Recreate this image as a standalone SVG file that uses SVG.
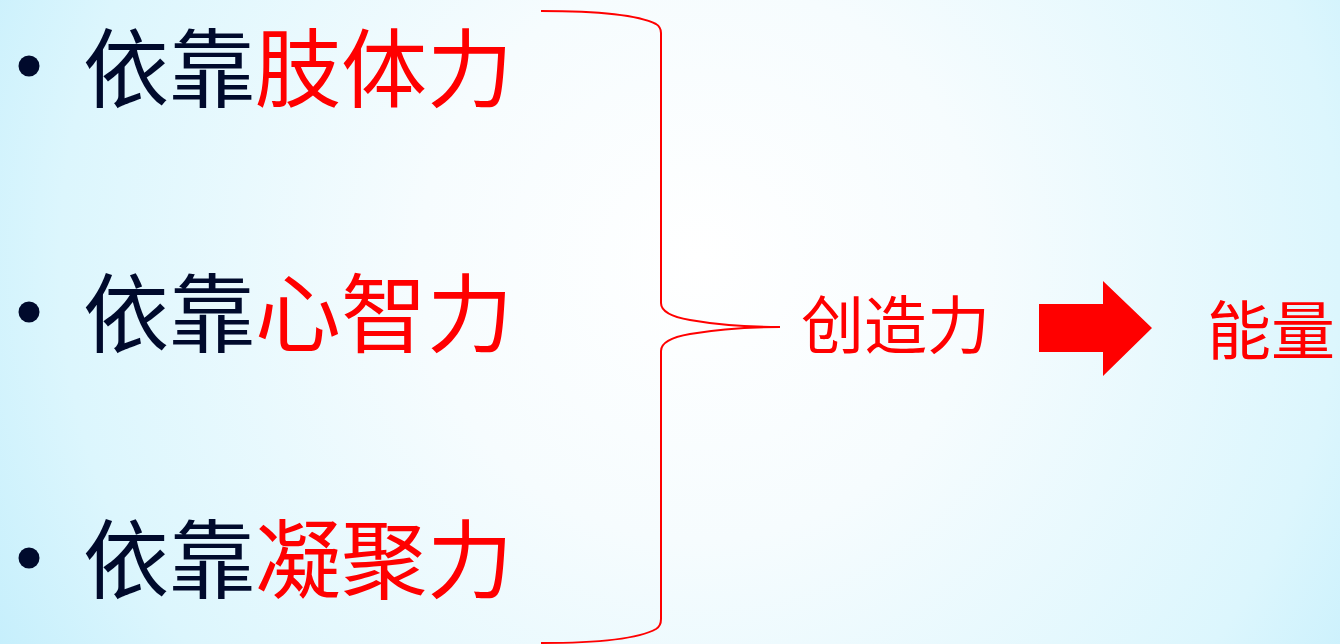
<svg xmlns="http://www.w3.org/2000/svg" width="1340" height="644" viewBox="0 0 1340 644">
<defs>
<radialGradient id="bg" cx="700" cy="260" r="800" gradientUnits="userSpaceOnUse">
<stop offset="0" stop-color="#ffffff"/>
<stop offset="0.35" stop-color="#f6fcfe"/>
<stop offset="0.8" stop-color="#dcf6fd"/>
<stop offset="1" stop-color="#c6effc"/>
</radialGradient>
<style>
.t{font-family:"Noto Sans CJK SC","Microsoft YaHei",sans-serif;font-size:86px;fill:#000a2c}
.r{fill:#ff0000}
.s{font-family:"Noto Sans CJK SC",sans-serif;font-size:63px;fill:#ff0000}
.b{fill:#000a2c}
.br{fill:none;stroke:#ff0000;stroke-width:2}
</style>
</defs>
<rect width="1340" height="644" fill="url(#bg)"/>
<g id="item1">
<circle class="b" cx="29" cy="66" r="10.5"/>
<text class="t" x="83" y="101">依靠<tspan class="r">肢体力</tspan></text>
</g>
<g id="item2">
<circle class="b" cx="29" cy="312" r="10.5"/>
<text class="t" x="83" y="346">依靠<tspan class="r">心智力</tspan></text>
</g>
<g id="item3">
<circle class="b" cx="29" cy="558" r="10.5"/>
<text class="t" x="83" y="592">依靠<tspan class="r">凝聚力</tspan></text>
</g>
<g id="connectors">
<path class="br" d="M541,11 C600,11 640,16 656,24 Q661,27 661,33 L661,303 Q661,315 690,320 Q730,327 780,327 Q730,327 690,334 Q661,339 661,351 L661,619 Q661,626 656,629 C640,638 600,643 541,643"/>
<polygon fill="#ff0000" points="1039,304 1103,304 1103,281 1152,328 1103,376 1103,352 1039,352"/>
</g>
<g id="creativity">
<text class="s" x="801" y="348">创造力</text>
</g>
<g id="energy">
<text class="s" x="1207" y="354" style="font-size:64px">能量</text>
</g>
</svg>
